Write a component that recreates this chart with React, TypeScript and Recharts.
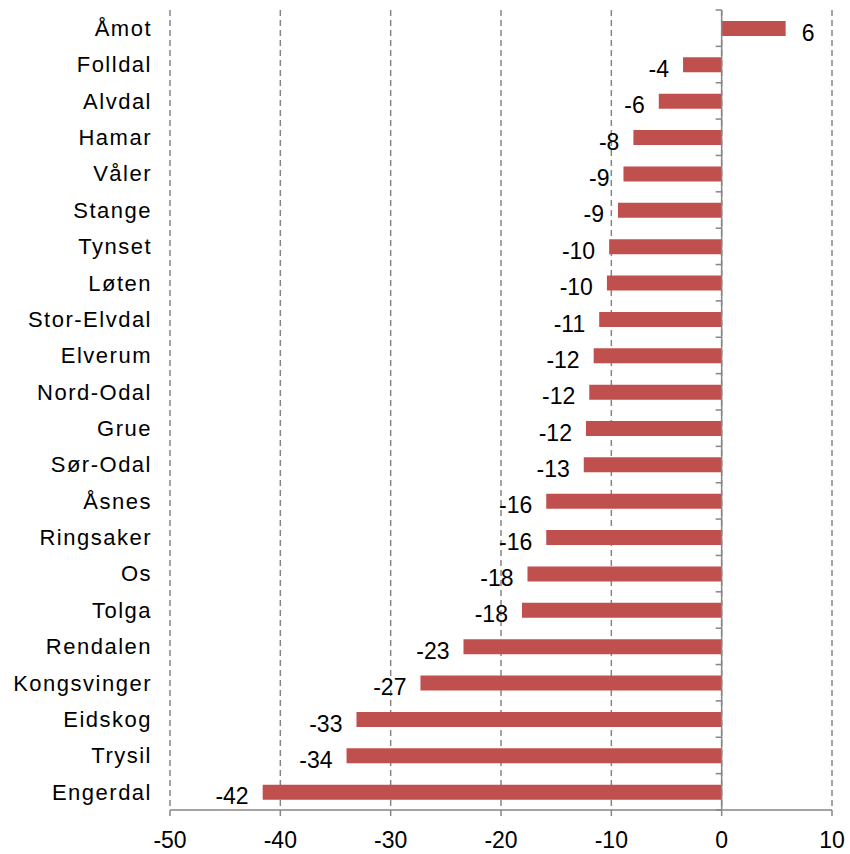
import { Bar, BarChart, CartesianGrid, LabelList, ReferenceLine, XAxis, YAxis } from 'recharts';

const municipalities = [
  'Åmot', 'Folldal', 'Alvdal', 'Hamar', 'Våler', 'Stange', 'Tynset', 'Løten',
  'Stor-Elvdal', 'Elverum', 'Nord-Odal', 'Grue', 'Sør-Odal', 'Åsnes', 'Ringsaker',
  'Os', 'Tolga', 'Rendalen', 'Kongsvinger', 'Eidskog', 'Trysil', 'Engerdal',
];

const changes = [
  5.8, -3.5, -5.7, -8.0, -8.9, -9.4, -10.2, -10.4, -11.1, -11.6, -12.0, -12.3,
  -12.5, -15.9, -15.9, -17.6, -18.1, -23.4, -27.3, -33.1, -34.0, -41.6,
];

const valueLabels = [
  '6', '-4', '-6', '-8', '-9', '-9', '-10', '-10', '-11', '-12', '-12', '-12',
  '-13', '-16', '-16', '-18', '-18', '-23', '-27', '-33', '-34', '-42',
];

const xTicks = [-50, -40, -30, -20, -10, 0, 10];

const data = municipalities.map((name, i) => ({
  name,
  value: changes[i],
  label: valueLabels[i],
}));

const AXIS = '#868686';
const FONT = '"Liberation Sans", Arial, sans-serif';

const renderValueLabel = (props: any) => {
  const { x, y, width, height, index } = props;
  const value = changes[index];
  const left = Math.min(x, x + width);
  const right = Math.max(x, x + width);
  const neg = value < 0;
  return (
    <text
      x={neg ? left - 14 : right + 16}
      y={y + height / 2 + 4}
      dy="0.355em"
      textAnchor={neg ? 'end' : 'start'}
      fontSize={23}
      fontFamily={FONT}
      fill="#000"
    >
      {valueLabels[index]}
    </text>
  );
};

// zero line with small category ticks pointing left
const renderZeroAxis = (props: any) => {
  const { x1, y1, x2, y2 } = props;
  const n = municipalities.length;
  const top = Math.min(y1, y2);
  const bottom = Math.max(y1, y2);
  const step = (bottom - top) / n;
  const marks = [];
  for (let i = 0; i <= n; i++) {
    const y = top + i * step;
    marks.push(<line key={i} x1={x1 - 6} x2={x1} y1={y} y2={y} stroke={AXIS} strokeWidth={1.5} />);
  }
  return (
    <g>
      <line x1={x1} x2={x2} y1={y1} y2={y2} stroke={AXIS} strokeWidth={1.5} />
      {marks}
    </g>
  );
};

export default function App() {
  return (
    <div style={{ position: 'absolute', left: 0, top: 0, background: '#fff' }}>
      <BarChart
        width={850}
        height={854}
        data={data}
        layout="vertical"
        margin={{ top: 10, right: 18, bottom: 0, left: 0 }}
      >
        <CartesianGrid horizontal={false} stroke={AXIS} strokeDasharray="6 4" strokeWidth={1.5} />
        <XAxis
          type="number"
          domain={[-50, 10]}
          ticks={xTicks}
          height={44}
          axisLine={{ stroke: AXIS, strokeWidth: 1.5 }}
          tickLine={{ stroke: AXIS, strokeWidth: 1.5 }}
          tickSize={6}
          tickMargin={16}
          tick={{ fontSize: 23, fill: '#000', fontFamily: FONT }}
        />
        <YAxis
          type="category"
          dataKey="name"
          width={170}
          axisLine={false}
          tickLine={false}
          tickMargin={12}
          interval={0}
          tick={{ fontSize: 22, fill: '#000', fontFamily: FONT, letterSpacing: 1.5 }}
        />
        <Bar dataKey="value" fill="#C0504D" barSize={15} isAnimationActive={false}>
          <LabelList dataKey="label" content={renderValueLabel} />
        </Bar>
        <ReferenceLine x={0} shape={renderZeroAxis} />
      </BarChart>
    </div>
  );
}
